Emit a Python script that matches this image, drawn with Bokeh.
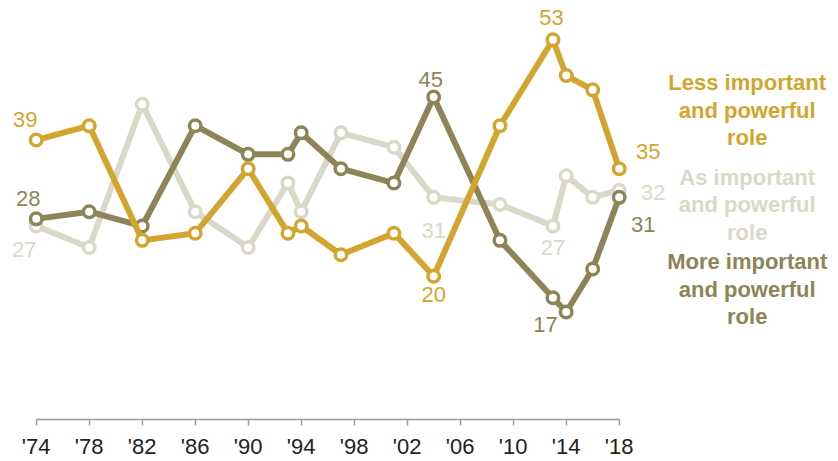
from bokeh.plotting import figure
from bokeh.models import FixedTicker, Range1d, ColumnDataSource
from bokeh.core.properties import value
from bokeh.embed import file_html
from bokeh.resources import INLINE

# ---------------- data ----------------
years = [1974, 1978, 1982, 1986, 1990, 1993, 1994, 1997, 2001, 2004, 2009, 2013, 2014, 2016, 2018]
less_important = [39, 41, 25, 26, 35, 26, 27, 23, 26, 20, 41, 53, 48, 46, 35]
as_important = [27, 24, 44, 29, 24, 33, 29, 40, 38, 31, 30, 27, 34, 31, 32]
more_important = [28, 29, 27, 41, 37, 37, 40, 35, 33, 45, 25, 17, 15, 21, 31]
series_names = [
    "Less important\nand powerful\nrole",
    "As important\nand powerful\nrole",
    "More important\nand powerful\nrole",
]
tick_years = [1974, 1978, 1982, 1986, 1990, 1994, 1998, 2002, 2006, 2010, 2014, 2018]
tick_labels = ["'74", "'78", "'82", "'86", "'90", "'94", "'98", "'02", "'06", "'10", "'14", "'18"]
labeled_years = [1974, 2004, 2013, 2018]

GOLD = "#D3A52F"
OLIVE = "#8D8558"
LIGHT = "#DAD8C8"
FONT = "Liberation Sans"

# label offsets in screen pixels (dx, dy), per series, for labeled_years
offsets = {
    "less": [(-11, -21), (0, 18), (-1.5, -22), (29, -17)],
    "as": [(-12, 23), (0, 33.5), (0, 21.5), (34, 2)],
    "more": [(-8, -20), (-3, -18), (-7.5, 27), (24, 27.5)],
}

PX_PER_UNIT = 7.2
PX_PER_YEAR = 13.25
W, H = 838, 461
BOTTOM = 40
FRAME_H = H - BOTTOM
x0 = 1974 - 35.7 / PX_PER_YEAR
p = figure(
    width=W, height=H,
    x_range=Range1d(x0, x0 + W / PX_PER_YEAR),
    y_range=Range1d(0, FRAME_H / PX_PER_UNIT),
    output_backend="svg", toolbar_location=None,
    min_border_left=0, min_border_right=0, min_border_top=0, min_border_bottom=BOTTOM,
)
p.outline_line_color = None
p.xgrid.visible = False
p.ygrid.visible = False
p.yaxis.visible = False

ax = p.xaxis[0]
ax.ticker = FixedTicker(ticks=tick_years)
ax.major_label_overrides = {y: l for y, l in zip(tick_years, tick_labels)}
ax.bounds = (tick_years[0], tick_years[-1])
ax.axis_line_color = "#9b9b9b"
ax.axis_line_width = 1.5
ax.major_tick_line_color = "#9b9b9b"
ax.major_tick_line_width = 1.5
ax.major_tick_in = 0
ax.major_tick_out = 6
ax.minor_tick_line_color = None
ax.major_label_standoff = 8
ax.major_label_text_font = FONT
ax.major_label_text_font_size = "22px"
ax.major_label_text_color = "#222222"

series = [
    ("as", as_important, LIGHT),
    ("more", more_important, OLIVE),
    ("less", less_important, GOLD),
]

for key, vals, color in series:
    src = ColumnDataSource(dict(x=years, y=vals))
    p.line("x", "y", source=src, line_color=color, line_width=6, line_join="round")
    p.scatter("x", "y", source=src, size=11.5, fill_color="white",
              line_color=color, line_width=3.5)

for key, vals, color in series:
    lx, ly, lt, dx, dy = [], [], [], [], []
    for (yr, (ox, oy)) in zip(labeled_years, offsets[key]):
        v = vals[years.index(yr)]
        lx.append(yr); ly.append(v); lt.append(str(v)); dx.append(ox); dy.append(oy)
    src = ColumnDataSource(dict(x=lx, y=ly, t=lt, dx=dx, dy=dy))
    p.text("x", "y", text="t", source=src, x_offset="dx", y_offset="dy",
           text_align="center", text_baseline="middle",
           text_font=value(FONT), text_font_size="22px", text_color=color)

# legend-like labels on the right
legend_x = [2027.66, 2027.66, 2027.66]
legend_y = [43.19, 30.0, 18.19]
legend_colors = [GOLD, LIGHT, OLIVE]
lsrc = ColumnDataSource(dict(x=legend_x, y=legend_y, t=series_names, c=legend_colors))
p.text("x", "y", text="t", source=lsrc, text_color="c",
       text_align="center", text_baseline="middle",
       text_font=value(FONT), text_font_style="bold", text_font_size="22px",
       text_line_height=1.1)

open("out.html", "w").write(file_html(p, INLINE))
